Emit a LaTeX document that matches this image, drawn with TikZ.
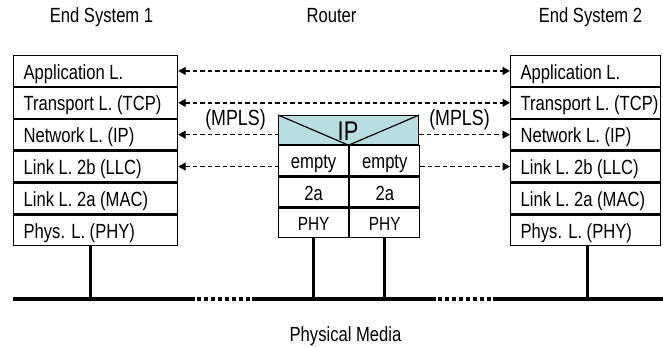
\documentclass[tikz,border=0pt]{standalone}
\usepackage{fontspec}
\setmainfont{Liberation Sans}[FakeStretch=0.81]
\usetikzlibrary{arrows.meta}
\definecolor{ipfill}{RGB}{185,222,226}
\newcommand\laytxt[2]{\hbox to #1{\hspace*{10pt}#2\hss}}
\begin{document}
\begin{tikzpicture}[x=1pt,y=-1pt,
  >={Triangle[length=7.5pt,width=8pt]},
  every node/.style={font=\fontsize{20.5}{24}\selectfont, inner sep=0pt},
  layer/.style={draw, line width=1.2pt, anchor=north west, minimum height=30.67pt,
    text height=17pt, text depth=0.7pt},
  cell/.style={draw, line width=1.2pt, anchor=north west, minimum width=70pt,
    minimum height=30pt, text height=17pt, text depth=0.7pt},
  title/.style={anchor=base},
  peer/.style={line width=1.4pt, dash pattern=on 4.5pt off 3pt},
  bus/.style={line width=4pt},
  busdot/.style={line width=4pt, dash pattern=on 4pt off 3pt},
  vline/.style={line width=3pt}]
\useasboundingbox (0,0) rectangle (663,347);

% titles
\node[title] (t1) at (101.5,23) {End System 1};
\node[title] (t2) at (331.5,23) {Router};
\node[title] (t3) at (590.5,23) {End System 2};

% end system 1
\node[layer] (L1) at (13,55) {\laytxt{164pt}{Application L.}};
\node[layer] (L2) at (L1.south west) {\laytxt{164pt}{Transport L. (TCP)}};
\node[layer] (L3) at (L2.south west) {\laytxt{164pt}{Network L. (IP)}};
\node[layer] (L4) at (L3.south west) {\laytxt{164pt}{Link L. 2b (LLC)}};
\node[layer] (L5) at (L4.south west) {\laytxt{164pt}{Link L. 2a (MAC)}};
\node[layer] (L6) at (L5.south west) {\laytxt{164pt}{Phys. L. (PHY)}};

% end system 2
\node[layer] (R1) at (510,55) {\laytxt{150pt}{Application L.}};
\node[layer] (R2) at (R1.south west) {\laytxt{150pt}{Transport L. (TCP)}};
\node[layer] (R3) at (R2.south west) {\laytxt{150pt}{Network L. (IP)}};
\node[layer] (R4) at (R3.south west) {\laytxt{150pt}{Link L. 2b (LLC)}};
\node[layer] (R5) at (R4.south west) {\laytxt{150pt}{Link L. 2a (MAC)}};
\node[layer] (R6) at (R5.south west) {\laytxt{150pt}{Phys. L. (PHY)}};

% router
\node[draw, line width=1.2pt, fill=ipfill, anchor=north west, minimum width=140pt,
  minimum height=29pt] (ip) at (278,115) {};
\draw[line width=1.2pt] (ip.north west) -- (ip.south) -- (ip.north east);
\node[anchor=base, font=\fontsize{27}{30}\selectfont] (iptxt) at (348,140.5) {IP};
\node[cell] (e1) at (ip.south west) {empty};
\node[cell] (e2) at (e1.north east) {empty};
\node[cell] (a1) at (e1.south west) {2a};
\node[cell] (a2) at (a1.north east) {2a};
\node[cell, minimum height=29pt, font=\fontsize{19}{22}\selectfont] (p1) at (a1.south west) {PHY};
\node[cell, minimum height=29pt, font=\fontsize{19}{22}\selectfont] (p2) at (p1.north east) {PHY};

% MPLS labels
\node[anchor=base, font=\fontsize{22}{26}\selectfont] (m1) at (235.5,126) {(MPLS)};
\node[anchor=base, font=\fontsize{22}{26}\selectfont] (m2) at (459.5,126) {(MPLS)};

% peer connectors
\draw[peer, <->] (L1.east) -- (R1.west);
\draw[peer, <->] (L2.east) -- (R2.west);
\draw[peer, <-] (L3.east) -- (L3.east -| ip.west);
\draw[peer, ->] (R3.west -| ip.east) -- (R3.west);
\draw[peer, <-] (L4.east) -- (L4.east -| e1.west);
\draw[peer, ->] (R4.west -| e2.east) -- (R4.west);

% physical media
\coordinate (b0) at (13,299);
\coordinate (b1) at (195,299);
\coordinate (b2) at (252,299);
\coordinate (b3) at (436,299);
\coordinate (b4) at (493,299);
\coordinate (b5) at (663,299);
\draw[bus] (b0) -- (b1);
\draw[busdot] ([xshift=2pt]b1) -- (b2);
\draw[bus] (b2) -- (b3);
\draw[busdot] ([xshift=2pt]b3) -- (b4);
\draw[bus] (b4) -- (b5);

\coordinate (v1) at (90,245);
\coordinate (v4) at (587,245);
\draw[vline] (v1) -- (v1 |- b0);
\draw[vline] (p1.south) -- (p1.south |- b0);
\draw[vline] (p2.south) -- (p2.south |- b0);
\draw[vline] (v4) -- (v4 |- b0);

\node[anchor=base] (pm) at (345.5,341) {Physical Media};
\end{tikzpicture}
\end{document}
